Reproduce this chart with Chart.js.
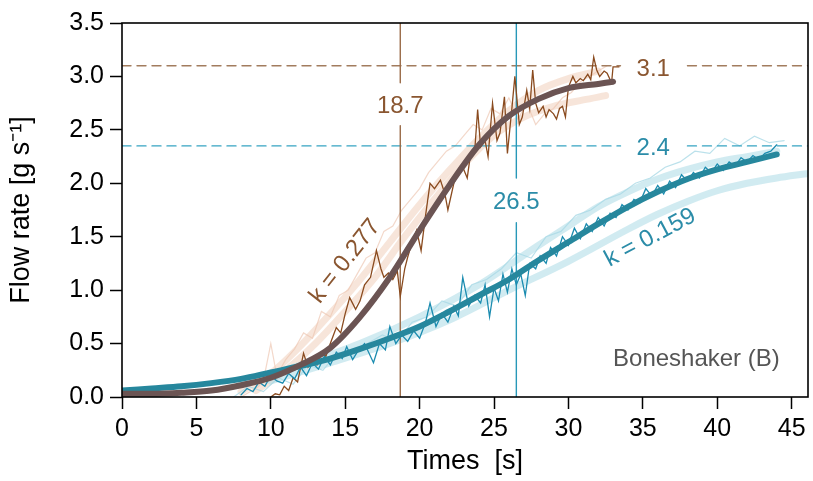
<!DOCTYPE html>
<html>
<head>
<meta charset="utf-8">
<script src="https://cdn.jsdelivr.net/npm/chart.js@4.4.1/dist/chart.umd.min.js"></script>
<style>
    html, body { margin: 0; padding: 0; background: #fff; }
</style>
</head>
<body>
<canvas id="flowChart" width="813" height="481"></canvas>
<script>
// Tick labels
const xTicks = [0, 5, 10, 15, 20, 25, 30, 35, 40, 45];
const yTicks = [0, 0.5, 1.0, 1.5, 2.0, 2.5, 3.0, 3.5];

// Boneshaker fit (k = 0.277) and its replicates  [time, flow]
const brownFit = [[0,0.03],[2,0.03],[4,0.04],[6,0.06],[8,0.11],[10,0.18],[12,0.3],[14,0.46],[16,0.75],[18,1.12],[20,1.56],[22,1.98],[24,2.36],[26,2.63],[28,2.79],[30,2.89],[32,2.93],[33,2.95]];
const peachA = [[8,0.05],[10,0.22],[12,0.48],[14,0.78],[16,1.1],[18,1.45],[20,1.8],[22,2.12],[24,2.42],[26,2.68],[28,2.87],[30,2.98],[32,3.05]];
const peachB = [[9,0.06],[11,0.25],[13,0.5],[15,0.8],[17,1.12],[19,1.5],[21,1.85],[23,2.18],[25,2.45],[27,2.62],[29,2.72],[31,2.78],[32.5,2.82]];
const peachRaw = [[8.0,0.0],[8.6,0.05],[9.2,0.1],[9.6,0.22],[10.0,0.5],[10.4,0.2],[11.0,0.35],[11.6,0.45],[12.2,0.6],[12.8,0.55],[13.4,0.8],[14.0,0.75],[14.6,0.95],[15.2,1.0],[15.8,1.15],[16.4,1.3],[17.0,1.35],[17.6,1.55],[18.2,1.6],[18.8,1.75],[19.4,1.85],[20.0,1.95],[20.6,2.1],[21.2,2.2],[21.8,2.3],[22.4,2.35],[23.0,2.45],[23.6,2.55],[24.2,2.5],[24.8,2.7],[25.4,2.65],[26.0,2.8],[26.6,2.6],[27.2,2.75],[27.8,2.55],[28.4,2.65],[29.0,2.7],[29.6,2.8],[30.2,2.85],[30.8,2.95],[31.4,3.0],[32.0,3.05],[32.6,3.1]];
const brownRaw = [[10.0,0.0],[10.3,0.03],[10.6,0.02],[10.9,0.1],[11.2,0.06],[11.5,0.18],[11.8,0.14],[12.2,0.41],[12.5,0.28],[12.8,0.33],[13.1,0.3],[13.4,0.42],[13.7,0.38],[14.0,0.5],[14.4,0.65],[14.7,0.6],[15.0,0.78],[15.3,0.93],[15.7,0.82],[16.0,0.9],[16.3,1.05],[16.7,1.12],[17.1,1.37],[17.4,1.2],[17.6,1.12],[17.9,1.16],[18.2,1.1],[18.5,1.18],[18.7,0.94],[19.0,1.2],[19.2,1.31],[19.5,1.45],[19.8,1.56],[20.1,1.37],[20.4,1.7],[20.7,2.0],[21.0,1.95],[21.4,2.03],[21.7,1.9],[21.9,1.75],[22.3,2.0],[22.6,2.1],[22.9,2.15],[23.2,2.05],[23.4,2.25],[23.7,2.3],[23.9,2.69],[24.1,2.34],[24.4,2.4],[24.6,2.25],[24.9,2.75],[25.2,2.4],[25.4,2.47],[25.7,2.81],[25.9,2.28],[26.2,2.7],[26.4,3.0],[26.7,2.55],[26.9,2.62],[27.2,2.87],[27.4,2.7],[27.6,3.06],[27.8,2.75],[28.0,2.66],[28.3,2.72],[28.5,2.62],[28.7,2.69],[29.0,2.65],[29.2,2.6],[29.4,2.7],[29.6,2.72],[29.8,2.62],[30.0,2.9],[30.3,3.0],[30.5,2.94],[30.8,2.98],[31.0,2.96],[31.3,3.02],[31.5,2.97],[31.7,3.18],[31.9,3.06],[32.1,3.0],[32.4,3.05],[32.6,3.03],[32.9,2.94],[33.0,3.09],[33.4,3.09]];

// Second series fit (k = 0.159) and its replicates
const tealFit = [[0,0.06],[2,0.08],[4,0.1],[6,0.13],[8,0.17],[10,0.23],[12,0.29],[14,0.36],[16,0.45],[18,0.55],[20,0.66],[22,0.8],[24,0.95],[26,1.1],[28,1.28],[30,1.45],[32,1.62],[34,1.78],[36,1.92],[38,2.04],[40,2.13],[42,2.2],[44,2.27]];
const tealA = [[8,0.12],[12,0.3],[16,0.5],[20,0.75],[24,1.05],[28,1.42],[30,1.6],[32,1.78],[34,1.92],[36,2.04],[38,2.13],[40,2.2],[42,2.25],[44,2.3]];
const tealB = [[10,0.15],[14,0.32],[18,0.5],[22,0.72],[26,1.0],[30,1.27],[34,1.57],[36,1.71],[38,1.83],[40,1.93],[42,2.0],[44,2.05],[46,2.09]];
const tealLightRaw = [[7.5,0.0],[8.5,0.1],[9.5,0.05],[10.5,0.18],[11.5,0.12],[12.5,0.3],[13.5,0.25],[14.5,0.42],[15.5,0.38],[16.5,0.5],[17.5,0.58],[18.5,0.52],[19.5,0.7],[20.5,0.75],[21.5,0.9],[22.5,0.85],[23.5,1.05],[24.5,1.1],[25.5,1.2],[26.5,1.35],[27.5,1.3],[28.5,1.5],[29.5,1.55],[30.5,1.7],[31.5,1.75],[32.5,1.85],[33.5,1.9],[34.5,2.0],[35.5,2.05],[36.5,2.15],[37.5,2.2],[38.5,2.3],[39.5,2.28],[40.5,2.42],[41.5,2.35],[42.5,2.44],[43.5,2.38],[44.5,2.4]];
const tealRaw = [[8.0,0.02],[8.4,0.08],[8.8,0.05],[9.2,0.14],[9.6,0.1],[10.0,0.2],[10.4,0.15],[10.8,0.13],[11.2,0.22],[11.6,0.17],[12.0,0.28],[12.4,0.2],[12.8,0.32],[13.2,0.26],[13.6,0.38],[14.0,0.3],[14.4,0.42],[14.8,0.36],[15.1,0.47],[15.5,0.35],[15.9,0.44],[16.3,0.5],[16.9,0.32],[17.3,0.5],[17.7,0.44],[18.0,0.66],[18.4,0.5],[18.8,0.58],[19.2,0.52],[19.6,0.62],[20.0,0.55],[20.4,0.7],[20.7,0.88],[21.1,0.66],[21.5,0.78],[21.9,0.7],[22.3,0.85],[22.6,0.76],[22.9,1.12],[23.3,0.85],[23.7,0.95],[24.1,0.88],[24.4,1.05],[24.7,0.75],[25.0,1.02],[25.3,0.9],[25.6,1.15],[25.9,0.98],[26.2,1.2],[26.5,1.05],[26.8,1.15],[27.1,0.95],[27.4,1.25],[27.8,1.2],[28.1,1.32],[28.5,1.25],[28.8,1.4],[29.2,1.32],[29.6,1.5],[30.0,1.42],[30.4,1.58],[30.8,1.48],[31.2,1.62],[31.6,1.55],[32.0,1.68],[32.4,1.6],[32.8,1.72],[33.2,1.68],[33.6,1.8],[34.0,1.75],[34.4,1.85],[34.8,1.82],[35.2,1.95],[35.6,1.88],[36.0,1.98],[36.4,1.9],[36.8,2.02],[37.2,1.96],[37.6,2.08],[38.0,2.02],[38.4,2.1],[38.8,2.05],[39.2,2.15],[39.6,2.1],[40.0,2.18],[40.4,2.12],[40.8,2.2],[41.2,2.16],[41.6,2.24],[42.0,2.2],[42.4,2.26],[42.8,2.22],[43.2,2.28],[43.6,2.3],[44.0,2.36]];

// Reference values: plateau and half-time (null = gap for the label)
const brownPlateau = [[0,3.1],[33.5,3.1],[35.7,null],[38.0,3.1],[46.1,3.1]];
const tealPlateau = [[0,2.35],[33.5,2.35],[35.7,null],[38.0,2.35],[46.1,2.35]];
const brownHalf = [[18.7,0],[18.7,2.54],[18.7,null],[18.7,2.94],[18.7,3.5]];
const tealHalf = [[26.5,0],[26.5,1.63],[26.5,null],[26.5,2.05],[26.5,3.5]];

document.addEventListener('DOMContentLoaded', () => {
    const ctx = document.getElementById('flowChart').getContext('2d');
    const FONT = '"Liberation Sans", Arial, sans-serif';

    const toPts = arr => arr.map(p => ({ x: p[0], y: p[1] }));

    // listed from back to front
    const layers = [
        { data: peachA, color: 'rgba(241,208,188,0.55)', width: 7, tension: 0.4 },
        { data: peachB, color: 'rgba(241,208,188,0.55)', width: 7, tension: 0.4 },
        { data: tealA, color: 'rgba(178,222,232,0.6)', width: 7, tension: 0.4 },
        { data: tealB, color: 'rgba(178,222,232,0.6)', width: 7, tension: 0.4 },
        { data: peachRaw, color: 'rgba(238,200,180,0.7)', width: 1.2, tension: 0 },
        { data: tealLightRaw, color: 'rgba(170,218,230,0.8)', width: 1.2, tension: 0 },
        { data: brownPlateau, color: '#a27c5e', width: 1.4, dash: [9, 6] },
        { data: tealPlateau, color: '#36a4c2', width: 1.4, dash: [9, 6] },
        { data: brownHalf, color: '#9a6b48', width: 1.4 },
        { data: tealHalf, color: '#2898b8', width: 1.4 },
        { data: brownRaw, color: '#8a4b1f', width: 1.3, tension: 0 },
        { data: tealRaw, color: '#1b8cb0', width: 1.3, tension: 0 },
        { data: tealFit, color: '#26879d', width: 6, tension: 0.4 },
        { data: brownFit, color: '#6b5453', width: 6, tension: 0.4 }
    ];

    const datasets = layers.map((l, i) => ({
        data: toPts(l.data),
        showLine: true,
        borderColor: l.color,
        borderWidth: l.width,
        borderDash: l.dash || [],
        borderCapStyle: 'round',
        tension: l.tension || 0,
        cubicInterpolationMode: l.tension ? 'monotone' : 'default',
        pointRadius: 0,
        spanGaps: false,
        order: layers.length - i
    }));

    // Text annotations (data coordinates)
    const notes = [
        { text: '18.7', x: 18.7, y: 2.72, color: '#8a5630', rot: 0 },
        { text: '26.5', x: 26.5, y: 1.82, color: '#2b8ca8', rot: 0 },
        { text: '3.1', x: 35.7, y: 3.07, color: '#8a5630', rot: 0 },
        { text: '2.4', x: 35.7, y: 2.33, color: '#2b8ca8', rot: 0 },
        { text: 'k = 0.277', x: 15.0, y: 1.27, color: '#8a5630', rot: -52 },
        { text: 'k = 0.159', x: 35.5, y: 1.49, color: '#2b8ca8', rot: -28 },
        { text: 'Boneshaker (B)', x: 38.6, y: 0.35, color: '#555555', rot: 0 }
    ];

    const framePlugin = {
        id: 'frame',
        afterDatasetsDraw(chart) {
            const c = chart.ctx;
            const a = chart.chartArea;
            const xs = chart.scales.x, ys = chart.scales.y;
            c.save();
            c.textAlign = 'center';
            c.textBaseline = 'middle';
            c.font = '24px ' + FONT;
            notes.forEach(n => {
                c.save();
                c.translate(xs.getPixelForValue(n.x), ys.getPixelForValue(n.y));
                c.rotate(n.rot * Math.PI / 180);
                c.fillStyle = n.color;
                c.fillText(n.text, 0, 0);
                c.restore();
            });
            c.strokeStyle = '#000';
            c.lineWidth = 1.6;
            c.strokeRect(a.left, a.top, a.right - a.left, a.bottom - a.top);
            c.restore();
        }
    };

    const axisStyle = {
        grid: { drawOnChartArea: false, drawTicks: true, tickLength: 12, tickColor: '#000', tickWidth: 1.5 },
        border: { display: false }
    };

    new Chart(ctx, {
        type: 'scatter',
        data: { datasets },
        options: {
            responsive: false,
            animation: false,
            layout: { padding: { top: 23, right: 5, left: 0, bottom: 0 } },
            plugins: {
                legend: { display: false },
                tooltip: { enabled: false }
            },
            scales: {
                x: {
                    ...axisStyle,
                    type: 'linear',
                    min: 0,
                    max: 46.1,
                    afterBuildTicks: s => { s.ticks = xTicks.map(v => ({ value: v })); },
                    afterFit: s => { s.height = 84; },
                    ticks: { color: '#000', font: { family: FONT, size: 25 }, padding: 5, maxRotation: 0 },
                    title: { display: true, text: 'Times  [s]', color: '#000', font: { family: FONT, size: 27 }, padding: { top: 0, bottom: 3 } }
                },
                y: {
                    ...axisStyle,
                    type: 'linear',
                    min: 0,
                    max: 3.5,
                    afterBuildTicks: s => { s.ticks = yTicks.map(v => ({ value: v })); },
                    afterFit: s => { s.width = 122; },
                    ticks: { color: '#000', font: { family: FONT, size: 25 }, padding: 6, callback: v => v.toFixed(1) },
                    title: { display: true, text: 'Flow rate [g s\u207B\u00B9]', color: '#000', font: { family: FONT, size: 27 }, padding: { top: 5, bottom: 0 } }
                }
            }
        },
        plugins: [framePlugin]
    });
});
</script>
</body>
</html>
